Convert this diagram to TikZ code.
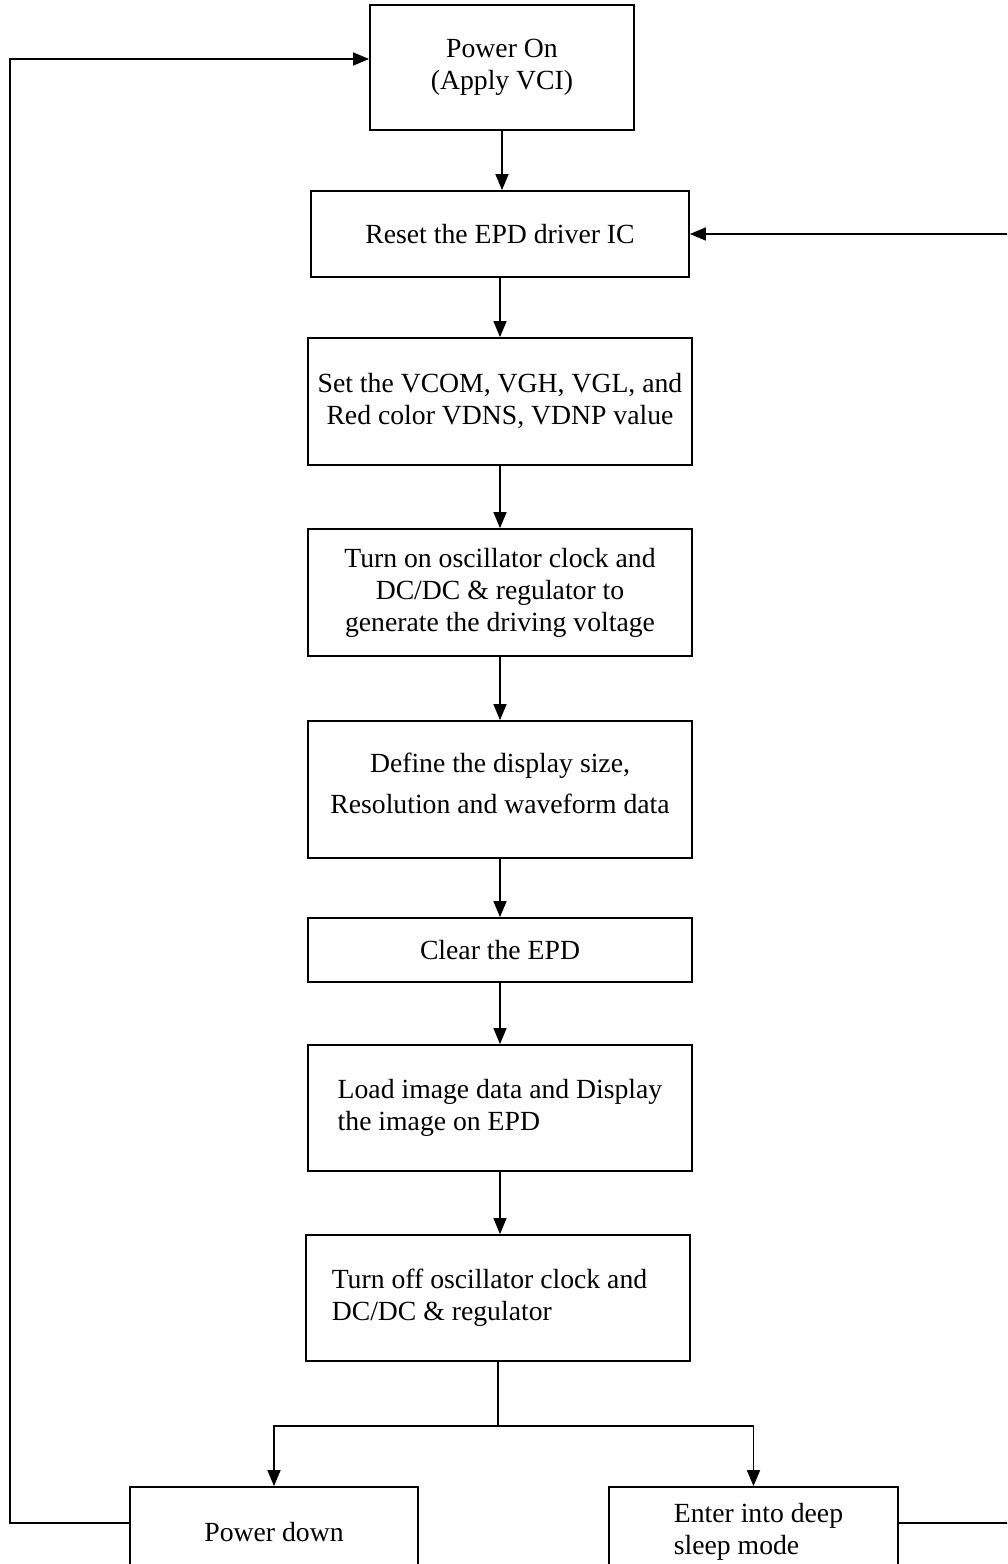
\documentclass[tikz,border=0pt]{standalone}
\usepackage{fontspec}
\setmainfont{Liberation Serif}
\usetikzlibrary{arrows.meta, calc}
\tikzset{
	flowblock/.style={
		rectangle, draw=black, line width=1.8pt,
		inner sep=0pt, align=center,
		font=\fontsize{27.7}{32}\selectfont
	},
	arrow/.style={
		-{Triangle[length=16pt, width=13pt]}, line width=1.5pt, color=black
	},
	plainline/.style={
		line width=1.5pt, color=black
	}
}

\begin{document}
\begin{tikzpicture}[x=1pt, y=-1pt]
	
	\useasboundingbox (0,0) rectangle (1007,1564);
	\clip (0,0) rectangle (1007,1564);
	
	%% ═══════════════════════════════
	%%  MAIN COLUMN
	%% ═══════════════════════════════
	\node[flowblock, minimum width=264, minimum height=125] (poweron) at (502,67.5)
	{Power On\\(Apply VCI)};
	\node[flowblock, minimum width=378, minimum height=86] (reset) at (500,234)
	{Reset the EPD driver IC};
	\node[flowblock, minimum width=384, minimum height=127] (setv) at (500,401.5)
	{Set the VCOM, VGH, VGL, and\\ Red color VDNS, VDNP value};
	\node[flowblock, minimum width=384, minimum height=127] (turnon) at (500,592.5)
	{Turn on oscillator clock and\\DC/DC \& regulator to\\generate the driving voltage};
	\node[flowblock, minimum width=384, minimum height=137] (define) at (500,789.5)
	{Define the display size,\\[9pt]Resolution and waveform data\\[-20pt]\mbox{}};
	\node[flowblock, minimum width=384, minimum height=64] (clear) at (500,950)
	{Clear the EPD};
	\node[flowblock, align=left,
	minimum width=384, minimum height=126] (load) at (500,1108)
	{Load image data and Display\\the image on EPD};
	\node[flowblock, align=left,
	minimum width=384, minimum height=126] (turnoff) at (498,1298)
	{Turn off oscillator clock and\hspace*{17pt}\\DC/DC \& regulator};
	
	%% ═══════════════════════════════
	%%  BOTTOM ROW
	%% ═══════════════════════════════
	\node[flowblock, minimum width=288, minimum height=90] (pdown) at (274,1532)
	{Power down};
	\node[flowblock, align=left,
	minimum width=289, minimum height=90] (sleep) at (753.5,1532)
	{\hspace*{10pt}Enter into deep\\\hspace*{10pt}sleep mode};
	
	%% ═══════════════════════════════
	%%  ARROWS
	%% ═══════════════════════════════
	\draw[arrow] (poweron.south) -- (poweron.south |- reset.north);
	\draw[arrow] (reset)  -- (setv);
	\draw[arrow] (setv)   -- (turnon);
	\draw[arrow] (turnon) -- (define);
	\draw[arrow] (define) -- (clear);
	\draw[arrow] (clear)  -- (load);
	\draw[arrow] (load.south) -- (load.south |- turnoff.north);
	
	% split to the two end states
	\coordinate (split) at (498,1426);
	\draw[plainline] (turnoff.south) -- (split);
	\draw[arrow] (split) -| (pdown.north);
	\draw[arrow] (split) -| (sleep.north);
	
	% Power down -> Power On
	\coordinate (lbot) at (10,1523);
	\coordinate (ltop) at (10,59);
	\draw[arrow] ([yshift=9pt]pdown.west) -- (lbot) -- (ltop) -- ([yshift=8.5pt]poweron.west);
	
	% deep sleep -> Reset
	\coordinate (rbot) at (1012,1523);
	\coordinate (rtop) at (1012,234);
	\draw[arrow] ([yshift=9pt]sleep.east) -- (rbot) -- (rtop) -- (reset.east);
	
\end{tikzpicture}
\end{document}
